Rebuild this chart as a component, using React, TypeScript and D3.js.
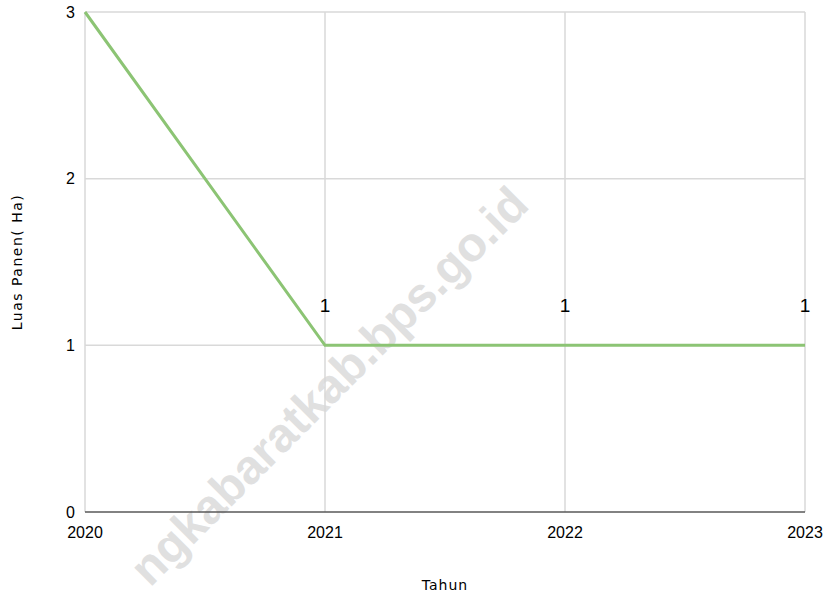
import * as d3 from "d3";

const years = ["2020", "2021", "2022", "2023"];
const luasPanen = [3, 1, 1, 1];
const yTicks = [0, 1, 2, 3];

const W = 828;
const H = 598;
const margin = { top: 12, right: 23, bottom: 86, left: 85 };
const tickFont = "'Liberation Sans Narrow', 'Arial Narrow', 'Liberation Sans', sans-serif";
const titleFont = "'DejaVu Sans', sans-serif";

export default function App() {
  const x = d3
    .scalePoint<string>()
    .domain(years)
    .range([margin.left, W - margin.right]);
  const y = d3
    .scaleLinear()
    .domain([0, 3])
    .range([H - margin.bottom, margin.top]);

  const line = d3
    .line<number>()
    .x((_, i) => x(years[i])!)
    .y((d) => y(d));

  const bottom = H - margin.bottom;

  return (
    <svg
      width={W}
      height={H}
      style={{ position: "absolute", left: 0, top: 0, background: "#fff" }}
    >
      {/* watermark (only the part visible in the page) */}
      <text
        transform="translate(150,588) rotate(-45)"
        fill="#e0e0e0"
        fontFamily="'Liberation Sans', Arial, sans-serif"
        fontWeight="bold"
        fontSize={48}
      >
        ngkabaratkab.bps.go.id
      </text>

      {/* gridlines */}
      {yTicks.slice(1).map((t) => (
        <line
          key={"h" + t}
          x1={margin.left}
          x2={W - margin.right}
          y1={y(t)}
          y2={y(t)}
          stroke="#d9d9d9"
          strokeWidth={1.5}
        />
      ))}
      {years.map((yr) => (
        <line
          key={"v" + yr}
          x1={x(yr)}
          x2={x(yr)}
          y1={margin.top}
          y2={bottom}
          stroke="#d9d9d9"
          strokeWidth={1.5}
        />
      ))}
      <line
        x1={margin.left}
        x2={W - margin.right}
        y1={bottom}
        y2={bottom}
        stroke="#595959"
        strokeWidth={1.5}
      />

      {/* y ticks */}
      {yTicks.map((t) => (
        <text
          key={"yt" + t}
          x={margin.left - 10}
          y={y(t)}
          dy="0.35em"
          textAnchor="end"
          fontFamily={tickFont}
          fontSize={16}
          fill="#000"
        >
          {t}
        </text>
      ))}

      {/* x ticks */}
      {years.map((yr) => (
        <text
          key={"xt" + yr}
          x={x(yr)}
          y={bottom + 26}
          textAnchor="middle"
          fontFamily={tickFont}
          fontSize={16}
          fill="#000"
        >
          {yr}
        </text>
      ))}

      {/* line */}
      <path
        d={line(luasPanen) ?? ""}
        fill="none"
        stroke="#8cc474"
        strokeWidth={3}
      />

      {/* data labels */}
      {luasPanen.map((v, i) =>
        y(v) - 40 > 0 ? (
          <text
            key={"dl" + i}
            x={x(years[i])}
            y={y(v) - 40}
            dy="0.35em"
            textAnchor="middle"
            fontFamily={tickFont}
            fontSize={19}
            fill="#000"
          >
            {v}
          </text>
        ) : null
      )}

      {/* axis titles */}
      <text
        x={(margin.left + W - margin.right) / 2}
        y={590}
        textAnchor="middle"
        fontFamily={titleFont}
        fontSize={14}
        letterSpacing={1}
        fill="#000"
      >
        Tahun
      </text>
      <text
        transform={`translate(22,${(margin.top + bottom) / 2}) rotate(-90)`}
        textAnchor="middle"
        fontFamily={titleFont}
        fontSize={14}
        letterSpacing={1.5}
        fill="#000"
      >
        Luas Panen( Ha)
      </text>
    </svg>
  );
}
